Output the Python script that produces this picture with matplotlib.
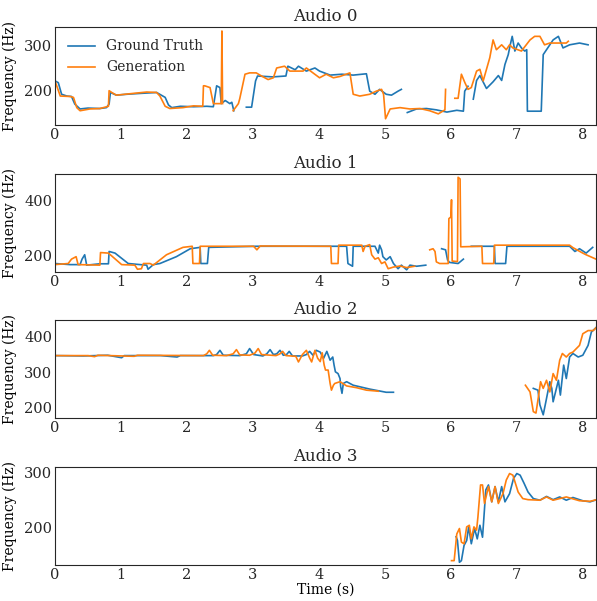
import numpy as np
import matplotlib
matplotlib.use('Agg')
import matplotlib.pyplot as plt

nan = np.nan

# pitch contours, (time s, freq Hz); nan = unvoiced gap
gt0 = [(0, 221), (0.05, 217), (0.10, 191), (0.18, 187), (0.25, 186), (0.30, 169), (0.38, 158), (0.5, 160),
       (0.68, 159), (0.78, 161), (0.82, 169), (0.84, 195), (0.93, 189), (1.09, 191), (1.3, 193), (1.54, 195),
       (1.67, 184), (1.72, 167), (1.77, 161), (1.9, 164), (2.1, 163), (2.3, 164), (2.4, 163), (2.45, 210),
       (2.50, 206), (2.52, 170), (2.58, 177), (2.65, 170), (2.68, 173), (2.71, 154), (nan, nan),
       (2.90, 162), (2.98, 162), (3.04, 221), (3.07, 232), (3.3, 230), (3.50, 232), (3.53, 254), (3.64, 246),
       (3.69, 254), (3.81, 243), (3.94, 250), (4.01, 243), (4.17, 234), (4.35, 236), (4.52, 234), (4.72, 237),
       (4.77, 198), (4.85, 191), (4.92, 202), (5.02, 191), (5.10, 189), (5.20, 198), (5.25, 202), (nan, nan),
       (5.34, 150), (5.48, 158), (5.63, 159), (5.78, 156), (5.94, 151), (6.09, 155), (6.19, 153), (6.21, 198),
       (6.26, 209), (nan, nan), (6.34, 180), (6.39, 222), (6.44, 233), (6.54, 204), (6.64, 219), (6.72, 233),
       (6.77, 222), (6.82, 258), (6.87, 280), (6.90, 302), (6.93, 321), (6.97, 288), (7.02, 306), (7.07, 295),
       (7.12, 288), (7.15, 291), (7.16, 153), (7.37, 153), (7.40, 280), (7.45, 291), (7.55, 313), (7.63, 321),
       (7.70, 295), (7.80, 302), (7.95, 306), (8.08, 302)]
gen0 = [(0, 221), (0.08, 187), (0.23, 186), (0.28, 184), (0.33, 161), (0.38, 154), (0.53, 158), (0.68, 159),
        (0.81, 164), (0.82, 199), (0.86, 195), (0.93, 189), (1.19, 193), (1.39, 196), (1.54, 195), (1.59, 187),
        (1.67, 164), (1.74, 159), (1.94, 161), (2.1, 165), (2.24, 164), (2.25, 210), (2.27, 210), (2.35, 206),
        (2.40, 170), (2.52, 170), (2.53, 333), (2.54, 170), (nan, nan), (2.70, 154), (2.78, 170), (2.80, 181),
        (2.88, 236), (2.95, 239), (3.05, 239), (3.13, 232), (3.23, 224), (3.31, 228), (3.36, 250), (3.48, 254),
        (3.56, 243), (3.76, 243), (3.81, 250), (4.01, 228), (4.11, 236), (4.22, 228), (4.32, 231), (4.47, 239),
        (4.52, 191), (4.62, 187), (4.77, 191), (4.87, 198), (4.95, 202), (4.98, 191), (5.01, 136), (5.08, 158),
        (5.23, 161), (5.38, 158), (5.53, 159), (5.68, 154), (5.81, 147), (5.91, 156), (5.92, 202), (nan, nan),
        (6.06, 182), (6.11, 182), (6.16, 236), (6.21, 218), (6.26, 202), (6.31, 206), (6.39, 243), (6.44, 247),
        (6.49, 221), (6.59, 273), (6.64, 313), (6.69, 291), (6.77, 302), (6.84, 291), (6.89, 302), (6.94, 295),
        (7.07, 288), (7.20, 313), (7.27, 321), (7.35, 321), (7.42, 302), (7.50, 306), (7.75, 306), (7.78, 310)]

gt1 = [(0, 171), (0.23, 167), (0.38, 167), (0.41, 187), (0.45, 203), (0.48, 165), (0.68, 170), (0.81, 170),
       (0.82, 215), (0.91, 209), (1.11, 171), (1.29, 167), (1.39, 165), (1.41, 150), (1.49, 167), (1.59, 171),
       (1.84, 196), (2.05, 225), (2.20, 230), (2.21, 171), (2.31, 171), (2.33, 230), (3.06, 234), (4.12, 234),
       (4.42, 234), (4.44, 171), (4.51, 161), (4.52, 234), (4.85, 234), (4.90, 209), (4.92, 238), (4.95, 221),
       (4.97, 196), (5.02, 184), (5.08, 196), (5.13, 171), (5.20, 152), (5.25, 165), (5.33, 148), (5.38, 165),
       (5.48, 161), (5.62, 165), (nan, nan), (5.86, 225), (5.92, 221), (5.95, 184), (5.98, 175), (6.11, 171),
       (6.19, 187), (nan, nan), (6.31, 234), (6.66, 234), (6.67, 171), (6.83, 171), (6.85, 234), (7.80, 234),
       (7.88, 215), (7.95, 225), (8.05, 209), (8.15, 230)]
gen1 = [(0, 167), (0.20, 171), (0.25, 187), (0.32, 196), (0.35, 167), (0.68, 165), (0.69, 211), (0.81, 209),
        (1.01, 167), (1.21, 165), (1.25, 150), (1.31, 152), (1.34, 171), (1.44, 171), (1.49, 165), (1.69, 203),
        (1.94, 230), (2.08, 234), (2.09, 171), (2.19, 171), (2.20, 234), (3.01, 234), (3.06, 221), (3.11, 235),
        (4.18, 234), (4.19, 171), (4.29, 171), (4.30, 238), (4.65, 238), (4.67, 215), (4.70, 234), (4.77, 240),
        (4.80, 203), (4.85, 187), (4.90, 192), (4.95, 171), (5.00, 177), (5.05, 152), (5.13, 158), (5.23, 162),
        (5.33, 156), (5.45, 161), (nan, nan), (5.68, 221), (5.73, 225), (5.76, 215), (5.78, 177), (5.83, 171),
        (5.96, 171), (5.97, 335), (6.00, 341), (6.01, 404), (6.02, 180), (6.10, 178), (6.11, 486), (6.14, 480),
        (6.15, 232), (6.47, 234), (6.48, 171), (6.65, 171), (6.66, 238), (7.80, 238), (7.85, 229), (8.00, 209),
        (8.05, 203), (8.20, 187)]

gt2 = [(0, 347), (0.43, 346), (0.8, 348), (1.01, 341), (1.05, 347), (1.6, 347), (1.85, 343), (1.9, 347),
       (2.4, 347), (2.45, 350), (2.50, 362), (2.55, 348), (2.8, 347), (2.90, 352), (2.95, 367), (3.01, 350),
       (3.15, 346), (3.21, 352), (3.26, 364), (3.31, 350), (3.36, 352), (3.41, 362), (3.46, 348), (3.51, 350),
       (3.55, 359), (3.6, 346), (3.75, 346), (3.81, 350), (3.86, 359), (3.91, 348), (3.96, 362), (4.02, 357),
       (4.07, 339), (4.12, 359), (4.17, 334), (4.21, 343), (4.23, 320), (4.25, 301), (4.29, 296), (4.32, 282),
       (4.33, 259), (4.35, 240), (4.37, 268), (4.42, 273), (4.52, 263), (4.77, 252), (5.02, 243), (5.13, 243),
       (nan, nan), (7.25, 254), (7.32, 249), (7.35, 207), (7.40, 179), (7.44, 216), (7.50, 273), (7.53, 254),
       (7.55, 216), (7.63, 277), (7.66, 235), (7.71, 320), (7.75, 282), (7.80, 343), (7.85, 353), (7.93, 343),
       (8.00, 348), (8.08, 376), (8.13, 414), (8.21, 428)]
gen2 = [(0, 347), (0.5, 347), (0.6, 344), (0.65, 348), (1.2, 345), (1.25, 348), (2.25, 347), (2.30, 352),
        (2.34, 362), (2.39, 348), (2.6, 347), (2.70, 352), (2.75, 364), (2.80, 349), (2.95, 348), (3.03, 354),
        (3.08, 367), (3.13, 350), (3.35, 347), (3.41, 352), (3.45, 359), (3.50, 347), (3.65, 345), (3.69, 329),
        (3.75, 350), (3.81, 362), (3.86, 340), (3.89, 329), (3.94, 362), (3.98, 340), (4.02, 330), (4.05, 355),
        (4.08, 320), (4.10, 306), (4.14, 306), (4.17, 268), (4.19, 249), (4.22, 263), (4.24, 268), (4.32, 273),
        (4.42, 261), (4.57, 256), (4.72, 249), (4.90, 246), (nan, nan), (7.13, 263), (7.20, 244), (7.25, 188),
        (7.29, 184), (7.32, 221), (7.36, 273), (7.40, 254), (7.45, 277), (7.50, 244), (7.55, 296), (7.60, 277),
        (7.65, 334), (7.69, 353), (7.75, 343), (7.80, 353), (7.85, 357), (7.95, 376), (8.00, 409), (8.08, 418),
        (8.16, 418), (8.21, 428)]

gt3 = [(6.08, 183), (6.10, 176), (6.13, 136), (6.16, 139), (6.20, 167), (6.24, 176), (6.27, 201), (6.31, 170),
       (6.36, 198), (6.40, 179), (6.44, 204), (6.48, 182), (6.53, 269), (6.57, 278), (6.62, 247), (6.67, 275),
       (6.72, 247), (6.77, 275), (6.82, 247), (6.89, 262), (6.95, 290), (7.00, 299), (7.05, 296), (7.11, 281),
       (7.17, 265), (7.25, 253), (7.35, 250), (7.45, 257), (7.55, 251), (7.65, 256), (7.75, 250), (7.85, 255),
       (8.00, 249), (8.11, 247), (8.21, 251)]
gen3 = [(6.01, 139), (6.05, 139), (6.09, 188), (6.13, 198), (6.16, 173), (6.20, 170), (6.24, 201), (6.28, 204),
        (6.31, 179), (6.35, 201), (6.39, 195), (6.41, 219), (6.45, 278), (6.48, 278), (6.51, 244), (6.57, 275),
        (6.62, 247), (6.67, 275), (6.72, 244), (6.79, 262), (6.84, 287), (6.89, 299), (6.94, 296), (7.02, 265),
        (7.09, 253), (7.17, 251), (7.35, 250), (7.45, 256), (7.55, 250), (7.75, 256), (7.95, 249), (8.11, 248),
        (8.21, 251)]

titles = ['Audio 0', 'Audio 1', 'Audio 2', 'Audio 3']
ylims = [(122, 342), (140, 498), (170, 448), (131, 311)]
yticks = [[200, 300], [200, 400], [200, 300, 400], [200, 300]]

plt.rcParams['font.family'] = 'DejaVu Serif'
plt.rcParams['font.size'] = 10.5
plt.rcParams['text.color'] = '.15'
plt.rcParams['xtick.color'] = '.15'
plt.rcParams['ytick.color'] = '.15'
plt.rcParams['xtick.major.size'] = 0
plt.rcParams['ytick.major.size'] = 0
plt.rcParams['axes.edgecolor'] = '.15'

fig = plt.figure(figsize=(5.97, 6.01), dpi=100)
tops = [27, 174, 320, 467]
h = 98
W, H = 597, 601

pairs = [(gt0, gen0), (gt1, gen1), (gt2, gen2), (gt3, gen3)]
for k, (gt, gen) in enumerate(pairs):
    ax = fig.add_axes([55 / W, 1 - (tops[k] + h) / H, 541 / W, h / H])
    g = np.array(gt, dtype=float)
    s = np.array(gen, dtype=float)
    ax.plot(g[:, 0], g[:, 1], color='C0', lw=1.2, label='Ground Truth')
    ax.plot(s[:, 0], s[:, 1], color='C1', lw=1.2, label='Generation')
    ax.set_xlim(0, 8.2)
    ax.set_ylim(*ylims[k])
    ax.set_yticks(yticks[k])
    ax.set_xticks(range(9))
    ax.set_title(titles[k], fontsize=12, pad=4)
    ax.set_ylabel('Frequency (Hz)', fontsize=10, labelpad=5)
    ax.tick_params(pad=2)
    if k == 0:
        ax.legend(loc='upper left', frameon=False, fontsize=10)
    if k == 3:
        ax.set_xlabel('Time (s)', fontsize=10, labelpad=1)

fig.savefig('out.png', dpi=100)
